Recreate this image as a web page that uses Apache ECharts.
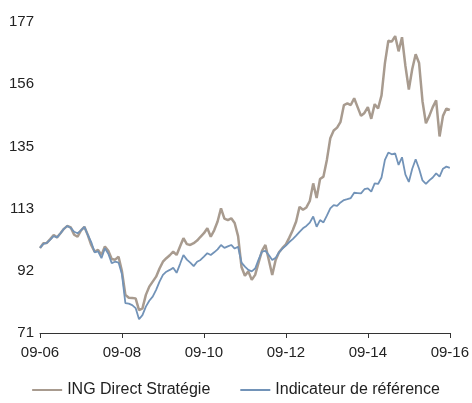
<!DOCTYPE html>
<html>
<head>
<meta charset="utf-8">
<script src="https://cdn.jsdelivr.net/npm/echarts@6/dist/echarts.min.js"></script>
<style>
  html, body { margin: 0; padding: 0; background: #fff; }
  #main { width: 472px; height: 403px; }
</style>
</head>
<body>
<div id="main"></div>
<script>
// monthly points, 2006-09 .. 2016-09
var strategie = [
  100, 101.6, 101.7, 103, 104.4, 103.6, 105, 106.5, 107.5, 107,
  104.5, 103.8, 106, 107.2, 104.4, 101, 98.7, 99.3, 97.6, 100.5,
  99, 96.2, 96, 97, 92, 84, 83, 82.9, 82.8, 78.8,
  79.4, 84, 86.8, 88.5, 90.2, 93, 95.3, 96.5, 97.5, 98.7,
  97.6, 100.5, 103.3, 101.3, 101, 101.6, 102.5, 103.8, 105, 106.7,
  103.8, 106, 109, 113.5, 110, 109.5, 110.1, 108.5, 104, 93.5,
  90.5, 92, 89.1, 90.8, 95, 99, 101, 95.9, 90.8, 95.9,
  98.5, 100, 101.2, 103.5, 106, 109, 114, 113, 113.8, 116,
  122, 117, 123.5, 124.3, 130, 137.4, 140, 141, 143, 148.7,
  149.3, 148.7, 151, 148, 145, 146, 148, 144, 149, 147.5,
  152, 163, 170.6, 170.3, 172.2, 167, 171.8, 162, 154, 161,
  166, 163, 150, 142.5, 145, 148, 150.3, 138, 145, 147.5,
  147
];
var reference = [
  100, 101.4, 101.7, 102.8, 104, 103.6, 105, 106.5, 107.5, 106.8,
  105.5, 105, 106, 107.2, 104.4, 102, 98.5, 98.8, 96.5, 99.9,
  98, 94.8, 95.3, 95, 91, 81.2, 81, 80.5, 79.5, 75.7,
  77.1, 80, 82, 83.4, 85.7, 88.5, 90.8, 91.9, 92.5, 93.2,
  91.5, 94.5, 97.6, 96, 95, 93.8, 95.3, 95.9, 97, 98.2,
  97.6, 98.5, 99.5, 101, 100, 100.5, 101, 99.8, 100.4, 95,
  93.6, 92.5, 92, 93, 96, 98.7, 99, 97.6, 95.9, 96.6,
  98.5, 99.8, 100.8, 102, 103, 104.2, 105.5, 106.7, 107.5, 108.6,
  110.7, 107.2, 109.5, 108.7, 111, 113.5, 114.6, 114.3, 115.5, 116.3,
  116.6, 117, 118.8, 118.7, 118.6, 120, 120.3, 119.2, 122, 121.8,
  124, 130, 132.5, 131.9, 132.2, 128.3, 130.9, 125, 122.5, 127,
  130.2, 127, 123, 121.8, 123, 124, 125.4, 124.3, 127, 127.7,
  127.3
];
var yTicks = [71, 92.2, 113.4, 134.6, 155.8, 177];
var seriesNames = ['ING Direct Stratégie', 'Indicateur de référence'];

// category labels MM-YY
var months = [];
for (var i = 0; i < strategie.length; i++) {
  var mm = (8 + i) % 12 + 1;
  var yy = 6 + Math.floor((8 + i) / 12);
  months.push((mm < 10 ? '0' : '') + mm + '-' + (yy < 10 ? '0' : '') + yy);
}

var font = 'Liberation Sans';
var myChart = echarts.init(document.getElementById('main'));
var option = {
  animation: false,
  grid: { left: 40, right: 20, top: 22, bottom: 70 },
  legend: {
    bottom: 0,
    left: 'center',
    itemWidth: 30,
    itemHeight: 2,
    itemGap: 30,
    icon: 'rect',
    textStyle: { fontFamily: font, fontSize: 16, color: '#222' },
    data: seriesNames
  },
  xAxis: {
    type: 'category',
    data: months,
    boundaryGap: false,
    axisLine: { lineStyle: { color: '#333', width: 1 } },
    axisTick: { interval: 23, length: 5, lineStyle: { color: '#333' } },
    axisLabel: { interval: 23, margin: 12, fontFamily: font, fontSize: 15, color: '#222' },
    splitLine: { show: false }
  },
  yAxis: {
    type: 'value',
    min: 71,
    max: 177,
    axisLine: { show: false },
    axisTick: { show: false },
    splitLine: { show: false },
    axisLabel: {
      customValues: yTicks,
      margin: 6,
      fontFamily: font,
      fontSize: 15,
      color: '#222',
      formatter: function (v) { return Math.round(v); }
    }
  },
  series: [
    {
      name: seriesNames[0],
      type: 'line',
      data: strategie,
      showSymbol: false,
      lineStyle: { color: '#a89b8f', width: 2.5 },
      itemStyle: { color: '#a89b8f' }
    },
    {
      name: seriesNames[1],
      type: 'line',
      data: reference,
      showSymbol: false,
      lineStyle: { color: '#7293b8', width: 1.8 },
      itemStyle: { color: '#7293b8' }
    }
  ]
};
myChart.setOption(option);
</script>
</body>
</html>
